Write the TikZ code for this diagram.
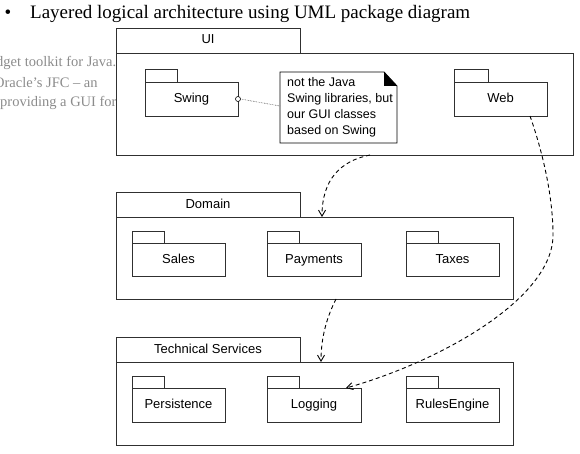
\documentclass[tikz,border=0pt]{standalone}
\usepackage{fontspec}
\setmainfont{Liberation Serif}
\setsansfont{Liberation Sans}
\usetikzlibrary{arrows.meta}
\definecolor{pkgline}{HTML}{303030}
\definecolor{greytext}{HTML}{8C8C8C}
\tikzset{
  pkgbox/.style={draw=pkgline, fill=white, line width=0.9pt, inner sep=0pt, outer sep=0pt,
    font=\sffamily\fontsize{13}{15}\selectfont, text height=9.5pt, text depth=2.5pt, anchor=north west},
  pkgtab/.style={pkgbox, anchor=south west},
  dep/.style={draw=black, line width=0.9pt, dash pattern=on 4pt off 3pt,
    -{Straight Barb[length=6pt,width=7pt]}},
  greyline/.style={anchor=base west, text=greytext, inner sep=0pt, font=\rmfamily\fontsize{14.5}{17}\selectfont},
  notetxt/.style={anchor=base west, align=left, inner sep=0pt, font=\sffamily\fontsize{12.5}{16.3}\selectfont},
}
\begin{document}
\begin{tikzpicture}[x=1pt,y=-1pt]
\useasboundingbox (0,0) rectangle (580,454);
\clip (0,0) rectangle (580,454);
\fill[white] (0,0) rectangle (580,454);

% title
\node[anchor=base, inner sep=0pt, font=\rmfamily\fontsize{19}{22}\selectfont] (bullet) at (8,19) {•};
\node[anchor=base west, inner sep=0pt, font=\rmfamily\fontsize{19}{22}\selectfont] (title) at (30,19)
  {Layered logical architecture using UML package diagram};

% grey background text (partly hidden)
\node[greyline] (g1) at (-4,67) {dget toolkit for Java.};
\node[greyline] (g2) at (-6,88) {Oracle’s JFC – an};
\node[greyline] (g3) at (0,107) {providing a GUI for};

% UI package
\node[pkgbox, minimum width=184pt, minimum height=25pt] (uitab) at (116,28) {UI};
\node[pkgbox, minimum width=457pt, minimum height=102pt] (ui) at (116,53) {};
\node[pkgbox, minimum width=93pt, minimum height=34pt] (swing) at (145,82) {Swing};
\node[pkgtab, minimum width=32pt, minimum height=13pt] (swingtab) at (swing.north west) {};
\node[pkgbox, minimum width=93pt, minimum height=34pt] (web) at (454,82) {Web};
\node[pkgtab, minimum width=34pt, minimum height=13pt] (webtab) at (web.north west) {};

% Domain package
\node[pkgbox, minimum width=184pt, minimum height=25pt] (domtab) at (116,192) {Domain};
\node[pkgbox, minimum width=397pt, minimum height=82pt] (dom) at (116,217) {};
\node[pkgbox, minimum width=93pt, minimum height=33pt] (sales) at (132,243) {Sales};
\node[pkgtab, minimum width=32pt, minimum height=12pt] (salestab) at (sales.north west) {};
\node[pkgbox, minimum width=94pt, minimum height=33pt] (payments) at (267,243) {Payments};
\node[pkgtab, minimum width=32pt, minimum height=12pt] (paymentstab) at (payments.north west) {};
\node[pkgbox, minimum width=93pt, minimum height=33pt] (taxes) at (406,243) {Taxes};
\node[pkgtab, minimum width=32pt, minimum height=12pt] (taxestab) at (taxes.north west) {};

% Technical Services package
\node[pkgbox, minimum width=184pt, minimum height=25pt] (techtab) at (116,337) {Technical Services};
\node[pkgbox, minimum width=397pt, minimum height=83pt] (tech) at (116,362) {};
\node[pkgbox, minimum width=93pt, minimum height=34pt] (persistence) at (132,388) {Persistence};
\node[pkgtab, minimum width=32pt, minimum height=11pt] (persistencetab) at (persistence.north west) {};
\node[pkgbox, minimum width=94pt, minimum height=34pt] (logging) at (267,388) {Logging};
\node[pkgtab, minimum width=32pt, minimum height=11pt] (loggingtab) at (logging.north west) {};
\node[pkgbox, minimum width=93pt, minimum height=34pt] (rules) at (406,388) {RulesEngine};
\node[pkgtab, minimum width=32pt, minimum height=11pt] (rulestab) at (rules.north west) {};

% note
\node[anchor=north west, minimum width=117pt, minimum height=71pt, inner sep=0pt, outer sep=0pt] (note) at (280,72) {};
\draw[line width=0.9pt, fill=white] (note.north west) -- ([xshift=-13pt]note.north east)
  -- ([yshift=-14pt]note.north east) -- (note.south east) -- (note.south west) -- cycle;
\fill ([xshift=-13pt]note.north east) -- ([xshift=-13pt,yshift=-14pt]note.north east)
  -- ([yshift=-14pt]note.north east) -- cycle;
\node[notetxt] (notetext) at (287,135) {not the Java\\Swing libraries, but\\our GUI classes\\based on Swing};

% note attachment
\draw[densely dotted, line width=0.6pt, black!70] ([xshift=2.5pt]swing.east) -- ([yshift=1.5pt]note.west);
\draw[line width=0.6pt, fill=white] (swing.east) circle (2.5pt);

% dependencies
\draw[dep] ([xshift=25.5pt]ui.south) .. controls (340,161) and (322,180) .. ([xshift=7.5pt]dom.north);
\draw[dep] ([xshift=21.5pt]dom.south) .. controls (328,315) and (321,335) .. ([xshift=6.5pt]tech.north);
\draw[dep] ([xshift=29.5pt]web.south) .. controls (542,150) and (553,195) .. (553,235)
  .. controls (553,300) and (436,363) .. ([xshift=32pt]logging.north);
\end{tikzpicture}
\end{document}
